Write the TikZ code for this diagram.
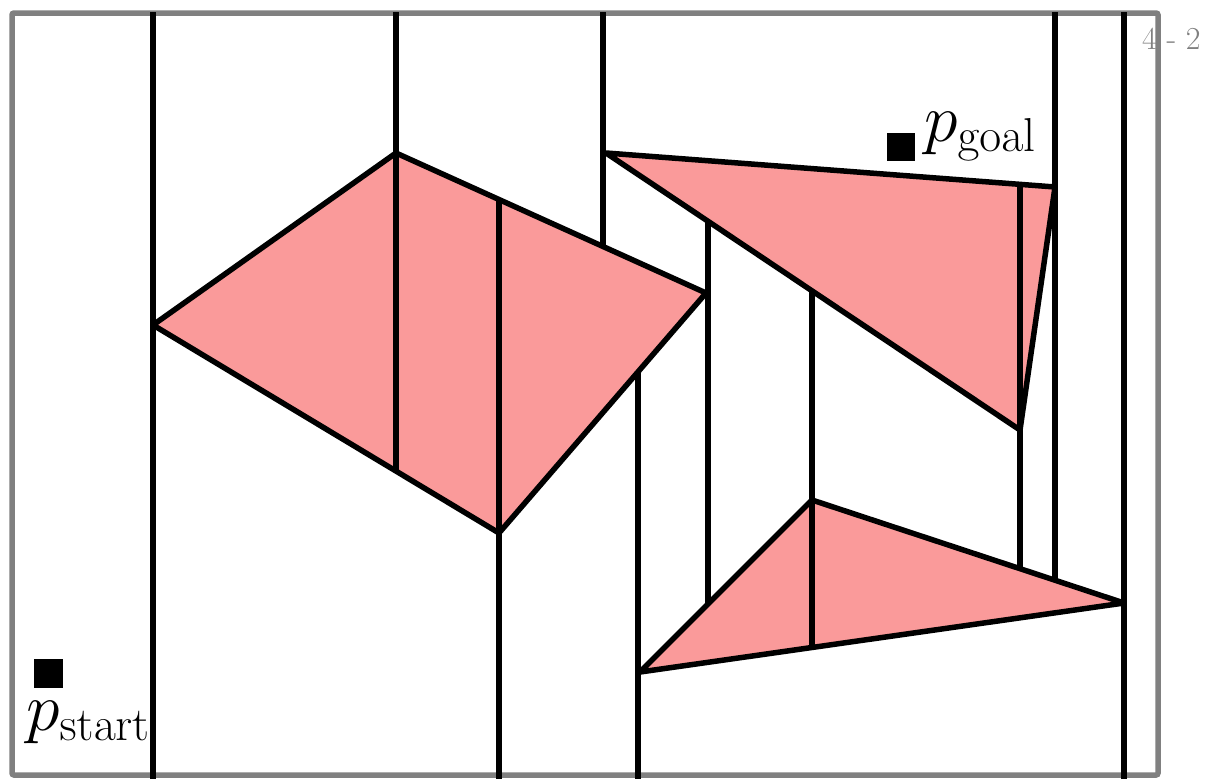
\documentclass[tikz,border=0pt]{standalone}
\usepackage{fix-cm}
\definecolor{obfill}{RGB}{250,154,154}
\definecolor{framegray}{RGB}{128,128,128}
\begin{document}
\begin{tikzpicture}[x=1pt,y=-1pt,
  seg/.style={line width=5.5pt, black},
  obst/.style={draw=black, line width=5.5pt, line join=round},
  frm/.style={draw=framegray, line width=5.5pt, rounded corners=2pt},
  marker/.style={fill=black, minimum size=29pt, inner sep=0pt, draw=none},
  lbl/.style={inner sep=0pt, font=\fontsize{68}{76}\selectfont},
  pagenum/.style={inner sep=0pt, text=framegray, font=\fontsize{32}{38}\selectfont}]
\useasboundingbox (0,0) rectangle (1217,779);
% obstacles
\fill[obfill] (153,325) -- (396,153) -- (706,293) -- (499,533) -- cycle;
\fill[obfill] (606,153) -- (1055,187) -- (1020,430) -- cycle;
\fill[obfill] (640,672) -- (812,500) -- (1124,603) -- cycle;
% frame
\draw[frm] (12,13) rectangle (1158,775);
% vertical decomposition segments
\draw[seg] (153,12) -- (153,779);
\draw[seg] (396,12) -- (396,471);
\draw[seg] (499,200) -- (499,779);
\draw[seg] (603,12) -- (603,246);
\draw[seg] (708,222) -- (708,604);
\draw[seg] (638,372) -- (638,779);
\draw[seg] (812,291) -- (812,648);
\draw[seg] (1020,185) -- (1020,569);
\draw[seg] (1055,12) -- (1055,580);
\draw[seg] (1124,12) -- (1124,779);
% obstacle outlines
\draw[obst] (153,325) -- (396,153) -- (706,293) -- (499,533) -- cycle;
\draw[obst] (606,153) -- (1055,187) -- (1020,430) -- cycle;
\draw[obst] (640,672) -- (812,500) -- (1124,603) -- cycle;
% start and goal
\node[marker] (sq start) at (48,673) {};
\node[lbl, anchor=base west] (start) at (26,730) {$p_{\mathrm{start}}$};
\node[marker, minimum size=28pt] (sq goal) at (901,147) {};
\node[lbl, anchor=base west] (goal) at (924,141) {$p_{\mathrm{goal}}$};
% page number
\node[pagenum, anchor=base west] (page) at (1142,49) {4 - 2};
\end{tikzpicture}
\end{document}
